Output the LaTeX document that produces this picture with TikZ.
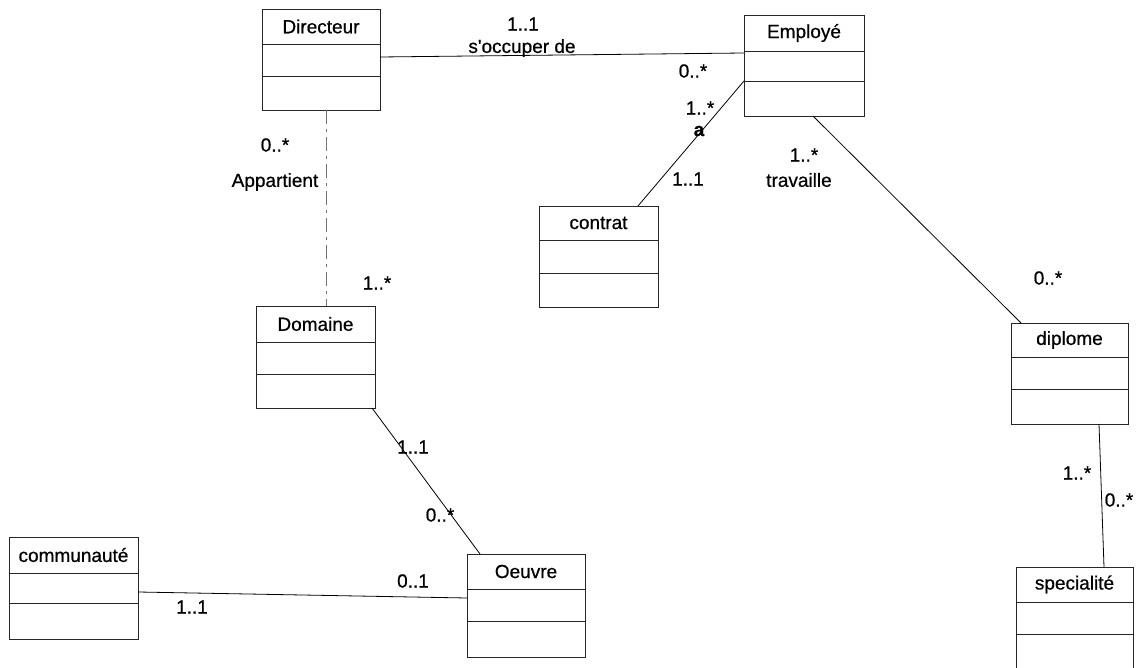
\documentclass[tikz,border=0pt]{standalone}
\usepackage{fontspec}
\setmainfont{Liberation Sans}[FakeBold=0.6]
\usetikzlibrary{calc}

\tikzset{
  classbox/.style={draw=black!85, line width=0.8pt, rectangle, inner sep=0pt, outer sep=0pt, anchor=north west},
  divider/.style={draw=black!85, line width=0.8pt},
  classname/.style={inner sep=0pt, font=\fontsize{19}{22}\selectfont},
  assoc/.style={draw=black, line width=0.8pt},
  weakassoc/.style={draw=black!55, line width=0.8pt, dash pattern=on 14pt off 5pt on 3pt off 5pt},
  mult/.style={inner sep=0pt, font=\fontsize{19}{22}\selectfont}
}

% UML class: name, x, y, width, height, first divider, second divider, title
\newcommand{\umlclass}[8]{%
  \node[classbox, minimum width=#4pt, minimum height=#5pt] (#1) at (#2,#3) {};
  \draw[divider] ([yshift=-#6pt]#1.north west) -- ([yshift=-#6pt]#1.north east);
  \draw[divider] ([yshift=-#7pt]#1.north west) -- ([yshift=-#7pt]#1.north east);
  \node[classname] (#1-title) at ($(#1.north)!0.5!([yshift=-#6pt]#1.north)$) {#8};
}

\begin{document}
\begin{tikzpicture}[x=1pt,y=-1pt]
  \useasboundingbox (0,0) rectangle (1141,668);

  % classes
  \umlclass{dir}{262}{9}{118}{101}{35}{67}{Directeur}
  \umlclass{emp}{744}{15}{120}{101}{36}{66}{Employé}
  \umlclass{con}{539}{206}{119}{101}{34}{67}{contrat}
  \umlclass{dom}{256}{306}{119}{102}{36}{68}{Domaine}
  \umlclass{dip}{1011}{323}{117}{101}{34}{66}{diplome}
  \umlclass{com}{9}{537}{129}{102}{36}{66}{communauté}
  \umlclass{oeu}{467}{554}{118}{103}{35}{67}{Oeuvre}
  \umlclass{spe}{1016}{567}{117}{103}{35}{67}{specialité}

  % associations
  \draw[assoc] ([yshift=-48pt]dir.north east) -- ([yshift=-38pt]emp.north west);
  \draw[weakassoc] ([xshift=5pt]dir.south) -- ([xshift=10.5pt]dom.north);
  \draw[assoc] ([yshift=-66pt]emp.north west) -- ([xshift=39.5pt]con.north);
  \draw[assoc] ([xshift=9pt]emp.south) -- ([xshift=10pt]dip.north west);
  \draw[assoc] ([xshift=29.5pt]dip.south) -- ([xshift=29.5pt]spe.north);
  \draw[assoc] ([xshift=-3pt]dom.south east) -- ([xshift=13pt]oeu.north west);
  \draw[assoc] ([yshift=-55pt]com.north east) -- ([yshift=-44pt]oeu.north west);

  % multiplicities and association names
  \node[mult] (m-de1) at (523,24) {1..1};
  \node[mult] (n-de)  at (522,48) {s\textquotesingle occuper de};
  \node[mult] (m-de2) at (693,71) {0..*};

  \node[mult] (m-dd1) at (275,145) {0..*};
  \node[mult] (n-dd)  at (275,182) {Appartient};
  \node[mult] (m-dd2) at (377,283) {1..*};

  \node[mult] (m-ec1) at (700,108) {1..*};
  \node[mult, font=\fontsize{19}{22}\selectfont\bfseries] (n-ec) at (699,131) {a};
  \node[mult] (m-ec2) at (688,179) {1..1};

  \node[mult] (m-ed1) at (804,155) {1..*};
  \node[mult] (n-ed)  at (799,180) {travaille};
  \node[mult] (m-ed2) at (1048,278) {0..*};

  \node[mult] (m-ds1) at (1077,473) {1..*};
  \node[mult] (m-ds2) at (1119,500) {0..*};

  \node[mult] (m-do1) at (413,447) {1..1};
  \node[mult] (m-do2) at (440,515) {0..*};

  \node[mult] (m-co1) at (192,607) {1..1};
  \node[mult] (m-co2) at (413,581) {0..1};
\end{tikzpicture}
\end{document}
